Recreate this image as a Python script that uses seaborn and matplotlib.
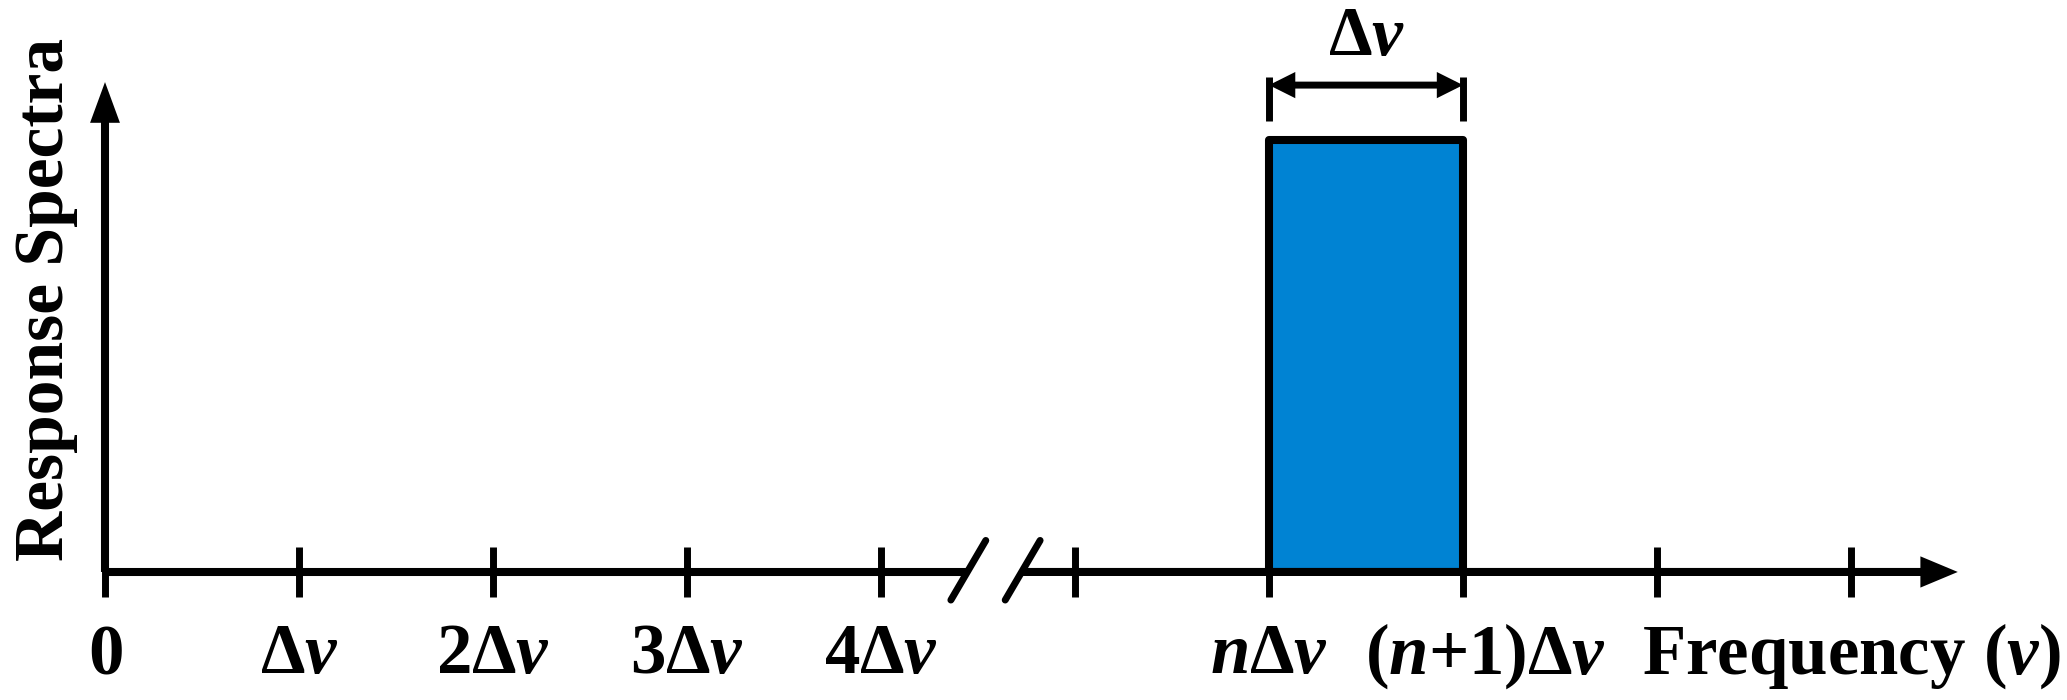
import numpy as np
import pandas as pd
import matplotlib
matplotlib.use('Agg')
import matplotlib.pyplot as plt
import matplotlib.transforms as mtransforms
import seaborn as sns

# ----- data (x in units of delta-v) -----
tick_pos = [0, 1, 2, 3, 4, 5, 6, 7, 8, 9]
tick_labels = [r'$0$', r'$\Delta v$', r'$2\Delta v$', r'$3\Delta v$', r'$4\Delta v$', '',
               r'$n\Delta v$', r'$(n{+}1)\Delta v$', '', r'$\mathrm{Frequency}\ (v)$']
band_start = [6]
band_width = [1]
band_height = [1]

break_at = [4.45, 4.73]      # axis break (two slashes)
x_arrow_end = 9.55
y_arrow_end = 1.134
dim_y = 1.127                # the delta-v dimension arrow above the band

sns.set_theme(style='white')
plt.rcParams['font.family'] = ['Liberation Serif', 'DejaVu Serif']
plt.rcParams['font.weight'] = 'bold'
plt.rcParams['text.color'] = 'black'
plt.rcParams['axes.labelcolor'] = 'black'
plt.rcParams['mathtext.fontset'] = 'custom'
plt.rcParams['mathtext.rm'] = 'Liberation Serif:bold'
plt.rcParams['mathtext.it'] = 'Liberation Serif:italic:bold'
plt.rcParams['mathtext.bf'] = 'Liberation Serif:bold'

fig = plt.figure(figsize=(20.67, 7), dpi=100)
ax = fig.add_axes([0.0508, 0.1829, 0.9492, 0.8023])

df = pd.DataFrame({'freq': [s + w / 2 for s, w in zip(band_start, band_width)],
                   'resp': band_height})
sns.barplot(data=df, x='freq', y='resp', native_scale=True, width=band_width[0],
            color='#0083d3', saturation=1, edgecolor='black', linewidth=5.8,
            errorbar=None, orient='x', ax=ax, zorder=3)
for p in ax.patches:
    p.set_joinstyle('round')

lw = 5.8
# x axis with break
ax.plot([0, break_at[0]], [0, 0], color='black', lw=lw, solid_capstyle='butt', clip_on=False, zorder=2)
ax.annotate('', xy=(x_arrow_end, 0), xytext=(break_at[1], 0), annotation_clip=False,
            arrowprops=dict(arrowstyle='-|>,head_length=0.55,head_width=0.23', mutation_scale=30,
                            color='black', lw=lw, shrinkA=0, shrinkB=0,
                            joinstyle='miter', capstyle='butt'))
for b in break_at:
    ax.plot([b - 0.09, b + 0.09], [-0.065, 0.073], color='black', lw=5, clip_on=False, zorder=4)

# y axis
ax.annotate('', xy=(0, y_arrow_end), xytext=(0, 0), annotation_clip=False,
            arrowprops=dict(arrowstyle='-|>,head_length=0.6,head_width=0.22', mutation_scale=30,
                            color='black', lw=lw, shrinkA=0, shrinkB=0,
                            joinstyle='miter', capstyle='butt'))

# delta-v dimension arrow
x0, x1 = band_start[0], band_start[0] + band_width[0]
ax.vlines([x0, x1], 1.044, 1.146, color='black', lw=5, clip_on=False)
ax.annotate('', xy=(x1, dim_y), xytext=(x0, dim_y), annotation_clip=False,
            arrowprops=dict(arrowstyle='<|-|>,head_length=0.54,head_width=0.27', mutation_scale=20,
                            color='black', lw=5, shrinkA=0, shrinkB=0,
                            joinstyle='miter', capstyle='butt'))
ax.text((x0 + x1) / 2, 1.197, r'$\Delta v$', ha='center', va='baseline', fontsize=50)

ax.set_xlim(0, 10.113)
ax.set_ylim(0, 1.3)
for s in ax.spines.values():
    s.set_visible(False)

ax.set_xticks(tick_pos, labels=tick_labels)
ax.tick_params(axis='x', bottom=True, direction='inout', length=36, width=5,
               color='black', labelcolor='black', labelsize=51, pad=55)
for t in ax.get_xticklabels():
    t.set_va('baseline')
# the (n+1) label sits a little right of its tick
lab = ax.get_xticklabels()[7]
lab.set_transform(lab.get_transform() + mtransforms.ScaledTranslation(0.22, 0, fig.dpi_scale_trans))
ax.set_yticks([])
ax.set_xlabel('')
ax.set_ylabel('Response Spectra', fontsize=50, fontweight='bold')
ax.yaxis.set_label_coords(-0.014, 0.485)

fig.savefig('out.png', dpi=100)
